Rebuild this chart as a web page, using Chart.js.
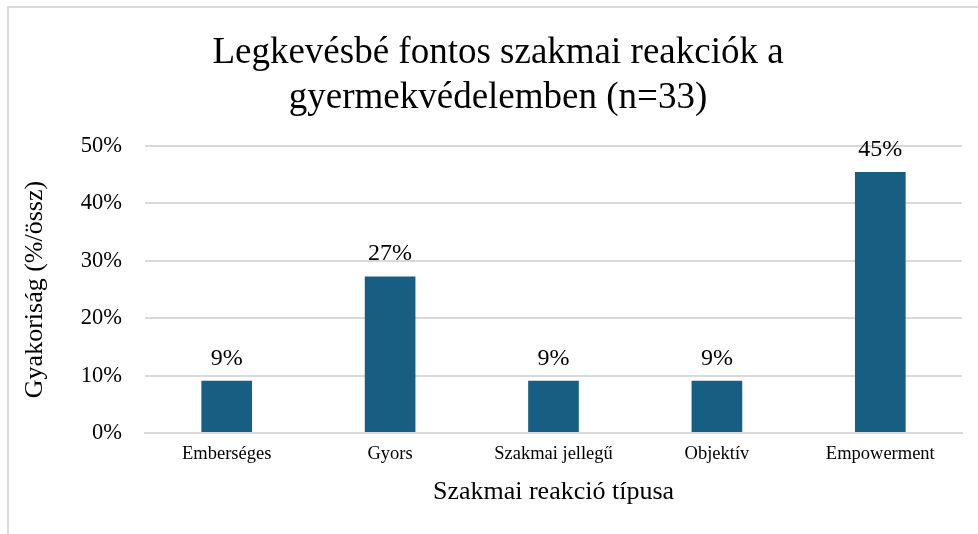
<!DOCTYPE html>
<html>
<head>
<meta charset="utf-8">
<script src="https://cdn.jsdelivr.net/npm/chart.js@4.4.1/dist/chart.umd.min.js"></script>
<style>
  html, body { margin: 0; padding: 0; background: #fff; }
  #frame {
    position: absolute; left: 7px; top: 6px; width: 990px; height: 540px;
    border: 2px solid #d9d9d9; box-sizing: border-box;
  }
  #wrap { position: absolute; left: 0; top: 0; width: 978px; height: 534px; }
</style>
</head>
<body>
<div id="frame"></div>
<div id="wrap"><canvas id="chart"></canvas></div>
<script>
const titleLines = ["Legkevésbé fontos szakmai reakciók a", "gyermekvédelemben (n=33)"];
const categories = ["Emberséges", "Gyors", "Szakmai jellegű", "Objektív", "Empowerment"];
const counts = [3, 9, 3, 3, 15];
const total = 33;
const shares = counts.map((c) => (c / total) * 100);
const xAxisTitle = "Szakmai reakció típusa";
const yAxisTitle = "Gyakoriság (%/össz)";

const serif = "'Liberation Serif', 'Times New Roman', serif";

// title drawn by hand so it can sit where the original has it
const headline = {
  id: "headline",
  afterDraw(chart) {
    const ctx = chart.ctx;
    ctx.save();
    ctx.fillStyle = "#000";
    ctx.font = "37px " + serif;
    ctx.textAlign = "center";
    ctx.textBaseline = "alphabetic";
    titleLines.forEach((line, i) => {
      ctx.fillText(line, 498, 63 + i * 45);
    });
    ctx.restore();
  },
};

// percentage labels above the bars
const barLabels = {
  id: "barLabels",
  afterDatasetsDraw(chart) {
    const ctx = chart.ctx;
    const meta = chart.getDatasetMeta(0);
    ctx.save();
    ctx.fillStyle = "#000";
    ctx.font = "24px " + serif;
    ctx.textAlign = "center";
    ctx.textBaseline = "alphabetic";
    meta.data.forEach((bar, i) => {
      ctx.fillText(Math.round(shares[i]) + "%", bar.x, bar.y - 16);
    });
    ctx.restore();
  },
};

const ctx = document.getElementById("chart").getContext("2d");
new Chart(ctx, {
  type: "bar",
  data: {
    labels: categories,
    datasets: [
      {
        data: shares,
        backgroundColor: "#175e82",
        borderWidth: 0,
        categoryPercentage: 1,
        barPercentage: 0.31,
      },
    ],
  },
  options: {
    responsive: true,
    maintainAspectRatio: false,
    animation: false,
    layout: {
      padding: { top: 146, left: 20, right: 16, bottom: 26 },
    },
    plugins: {
      legend: { display: false },
      tooltip: { enabled: false },
    },
    scales: {
      x: {
        grid: { display: false, drawTicks: false },
        border: { display: true, color: "#d9d9d9", width: 2 },
        ticks: {
          color: "#000",
          padding: 10,
          maxRotation: 0,
          font: { family: serif, size: 18.5 },
        },
        title: {
          display: true,
          text: xAxisTitle,
          color: "#000",
          padding: 0,
          font: { family: serif, size: 26 },
        },
        afterFit(scale) {
          scale.height = 75;
          scale.paddingLeft = 0;
          scale.paddingRight = 0;
        },
      },
      y: {
        min: 0,
        max: 50,
        grid: { color: "#d9d9d9", lineWidth: 2, drawTicks: false },
        border: { display: false },
        ticks: {
          stepSize: 10,
          color: "#000",
          padding: 23,
          font: { family: serif, size: 22.5 },
          callback: (v) => v + "%",
        },
        title: {
          display: true,
          text: yAxisTitle,
          color: "#000",
          padding: 0,
          font: { family: serif, size: 26 },
        },
        afterFit(scale) {
          scale.width = 125;
          scale.paddingTop = 0;
          scale.paddingBottom = 0;
        },
      },
    },
  },
  plugins: [headline, barLabels],
});
</script>
</body>
</html>
